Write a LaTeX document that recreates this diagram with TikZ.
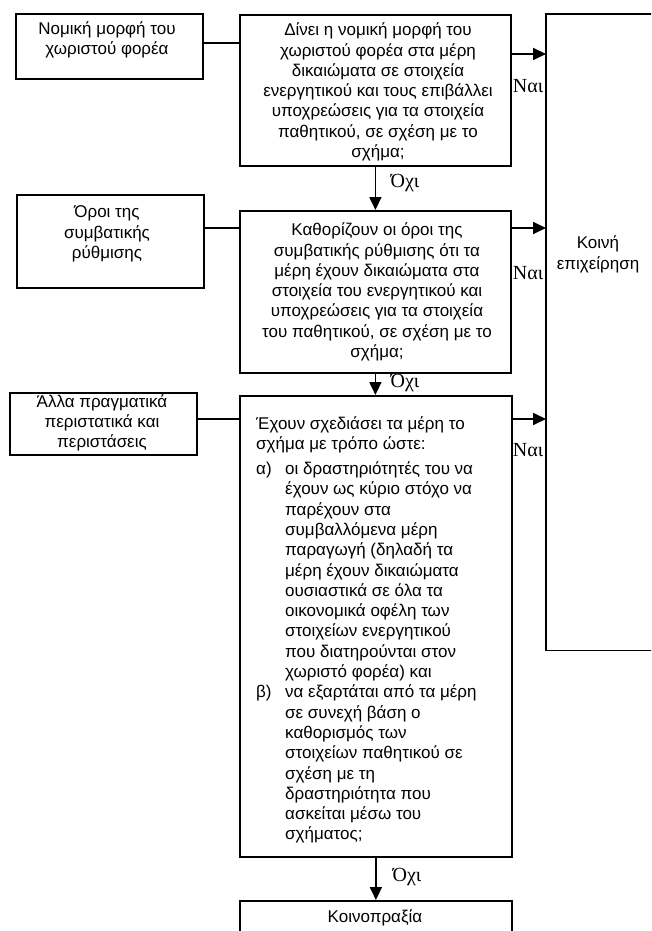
\documentclass[tikz,border=0pt]{standalone}
\usepackage{fontspec}
\setmainfont{Liberation Sans}
\newfontfamily\serifgr{Liberation Serif}
\usetikzlibrary{arrows.meta}
\begin{document}
\begin{tikzpicture}[x=1pt,y=-1pt,
  box/.style={draw, line width=1.8pt, inner sep=0pt, anchor=north west},
  openbox/.style={inner sep=0pt, anchor=north west},
  txt/.style={font=\fontsize{17}{20.3}\selectfont, align=center, inner sep=0pt},
  ltxt/.style={font=\fontsize{17}{20.3}\selectfont, align=left, inner sep=0pt},
  lbl/.style={font=\serifgr\fontsize{20}{22}\selectfont, inner sep=0pt},
  conn/.style={line width=1.8pt},
  arr/.style={line width=1.8pt, -{Triangle[length=13pt,width=12pt]}}
]
\useasboundingbox (0,0) rectangle (651,931);
\clip (0,0) rectangle (651,931);
% boxes
\node[box, minimum width=187, minimum height=65] (l1) at (15,13) {};
\node[box, minimum width=271, minimum height=151] (m1) at (239,14) {};
\node[openbox, minimum width=110, minimum height=636] (r) at (546,14) {};
\draw[conn] (r.north east) -- (r.north west) -- (r.south west) -- (r.south east);
\node[box, minimum width=187, minimum height=93] (l2) at (16,194) {};
\node[box, minimum width=271, minimum height=162] (m2) at (239,210) {};
\node[box, minimum width=187, minimum height=62] (l3) at (9,392) {};
\node[box, minimum width=272, minimum height=461] (m3) at (239,395) {};
\node[box, minimum width=272, minimum height=80] (b) at (239,900) {};
% texts
\node[txt] (l1t) at (107,40) {Νομική μορφή του\\χωριστού φορέα};
\node[txt] (m1t) at (378,92) {Δίνει η νομική μορφή του\\χωριστού φορέα στα μέρη\\δικαιώματα σε στοιχεία\\ενεργητικού και τους επιβάλλει\\υποχρεώσεις για τα στοιχεία\\παθητικού, σε σχέση με το\\σχήμα;};
\node[txt] (rt) at (598,254.5) {Κοινή\\επιχείρηση};
\node[txt] (l2t) at (107,234) {Όροι της\\συμβατικής\\ρύθμισης};
\node[txt] (m2t) at (377,292) {Καθορίζουν οι όροι της\\συμβατικής ρύθμισης ότι τα\\μέρη έχουν δικαιώματα στα\\στοιχεία του ενεργητικού και\\υποχρεώσεις για τα στοιχεία\\του παθητικού, σε σχέση με το\\σχήμα;};
\node[txt] (l3t) at (102,423) {Άλλα πραγματικά\\περιστατικά και\\περιστάσεις};
\node[ltxt, anchor=west] (m3t) at (256,630) {Έχουν σχεδιάσει τα μέρη το\\
σχήμα με τρόπο ώστε:\\[4.5pt]
\makebox[29pt][l]{α)}οι δραστηριότητές του να\\
\makebox[29pt][l]{}έχουν ως κύριο στόχο να\\
\makebox[29pt][l]{}παρέχουν στα\\
\makebox[29pt][l]{}συμβαλλόμενα μέρη\\
\makebox[29pt][l]{}παραγωγή (δηλαδή τα\\
\makebox[29pt][l]{}μέρη έχουν δικαιώματα\\
\makebox[29pt][l]{}ουσιαστικά σε όλα τα\\
\makebox[29pt][l]{}οικονομικά οφέλη των\\
\makebox[29pt][l]{}στοιχείων ενεργητικού\\
\makebox[29pt][l]{}που διατηρούνται στον\\
\makebox[29pt][l]{}χωριστό φορέα) και\\
\makebox[29pt][l]{β)}να εξαρτάται από τα μέρη\\
\makebox[29pt][l]{}σε συνεχή βάση ο\\
\makebox[29pt][l]{}καθορισμός των\\
\makebox[29pt][l]{}στοιχείων παθητικού σε\\
\makebox[29pt][l]{}σχέση με τη\\
\makebox[29pt][l]{}δραστηριότητα που\\
\makebox[29pt][l]{}ασκείται μέσω του\\
\makebox[29pt][l]{}σχήματος;};
\node[txt] (bt) at (375,918) {Κοινοπραξία};
% labels
\node[lbl] (o1) at (405,183) {Όχι};
\node[lbl] (o2) at (405,383) {Όχι};
\node[lbl] (o3) at (407,877) {Όχι};
\node[lbl] (n1) at (528,86) {Ναι};
\node[lbl] (n2) at (528,273) {Ναι};
\node[lbl] (n3) at (528,450) {Ναι};
% connectors
\draw[conn] (l1.east |- 0,43) -- (m1.west |- 0,43);
\draw[conn] (l2.east |- 0,228) -- (m2.west |- 0,228);
\draw[conn] (l3.east |- 0,419) -- (m3.west |- 0,419);
\draw[arr] (m1.east |- 0,54) -- (r.west |- 0,54);
\draw[arr] (m2.east |- 0,228) -- (r.west |- 0,228);
\draw[arr] (m3.east |- 0,419) -- (r.west |- 0,419);
\draw[arr] (m1.south) -- (m1.south |- m2.north);
\draw[arr] (m2.south) -- (m2.south |- m3.north);
\draw[arr] (m3.south) -- (m3.south |- b.north);
\end{tikzpicture}
\end{document}
